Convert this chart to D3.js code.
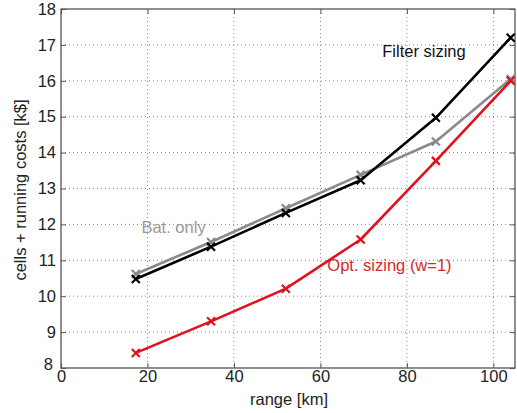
<!DOCTYPE html>
<html><head><meta charset="utf-8">
<script src="https://cdn.jsdelivr.net/npm/d3@7"></script>
<style>body{margin:0;background:#fff}svg{display:block}text{font-family:"Liberation Sans",Arial,sans-serif}</style>
</head><body>
<svg id="c" width="517" height="413"></svg>
<script>
const rangeKm = [17.3, 34.7, 52, 69.3, 86.7, 104];
const filterSizing = [10.48, 11.38, 12.32, 13.23, 14.97, 17.2];
const batOnly = [10.62, 11.51, 12.45, 13.38, 14.31, 16.05];
const optSizing = [8.42, 9.3, 10.21, 11.58, 13.77, 16.0];
const xTicks = [0, 20, 40, 60, 80, 100];
const yTicks = [8, 9, 10, 11, 12, 13, 14, 15, 16, 17, 18];
const xTitle = "range [km]";
const yTitle = "cells + running costs [k$]";

const svg = d3.select("#c");
const L = 61, R = 515, T = 9, B = 368;
const x = d3.scaleLinear().domain([0, 105]).range([L, R]);
const y = d3.scaleLinear().domain([8, 18]).range([B, T]);
const axisCol = "#555", gridCol = "#888";

// grid
const g = svg.append("g");
g.selectAll(".gx").data(xTicks.filter(d => d > 0)).enter().append("line")
  .attr("x1", d => x(d)).attr("x2", d => x(d)).attr("y1", T).attr("y2", B)
  .attr("stroke", gridCol).attr("stroke-width", 1).attr("stroke-dasharray", "1,3");
g.selectAll(".gy").data(yTicks.filter(d => d > 8 && d < 18)).enter().append("line")
  .attr("x1", L).attr("x2", R).attr("y1", d => y(d)).attr("y2", d => y(d))
  .attr("stroke", gridCol).attr("stroke-width", 1).attr("stroke-dasharray", "1,3");

// axes
const fs = "16.5px";
const xAxis = svg.append("g").attr("transform", `translate(0,${B})`)
  .call(d3.axisBottom(x).tickValues(xTicks).tickSize(-5).tickPadding(2).tickFormat(d3.format("d")));
const xAxisTop = svg.append("g").attr("transform", `translate(0,${T})`)
  .call(d3.axisTop(x).tickValues(xTicks).tickSize(-5).tickFormat(""));
const yAxis = svg.append("g").attr("transform", `translate(${L},0)`)
  .call(d3.axisLeft(y).tickValues(yTicks).tickSize(-5).tickPadding(5).tickFormat(d3.format("d")));
const yAxisR = svg.append("g").attr("transform", `translate(${R},0)`)
  .call(d3.axisRight(y).tickValues(yTicks).tickSize(-5).tickFormat(""));
[xAxis, xAxisTop, yAxis, yAxisR].forEach(a => {
  a.select(".domain").remove();
  a.selectAll("line").attr("stroke", axisCol);
  a.selectAll("text").attr("fill", "#222").style("font-size", fs).style("font-family", '"Liberation Sans",Arial,sans-serif');
});
yAxis.selectAll("text").filter(d => d === 8).attr("dy", "0.1em").attr("dx", "-3");
svg.append("rect").attr("x", L).attr("y", T).attr("width", R - L).attr("height", B - T)
  .attr("fill", "none").attr("stroke", axisCol).attr("stroke-width", 1.3);

// titles
svg.append("text").attr("x", (L + R) / 2 + 1).attr("y", 405).attr("text-anchor", "middle")
  .style("font-size", fs).attr("fill", "#222").text(xTitle);
svg.append("text").attr("transform", `translate(26,190) rotate(-90)`).attr("text-anchor", "middle")
  .style("font-size", fs).attr("fill", "#222").text(yTitle);

// series
const series = [
  {vals: batOnly, color: "#8a8a8a"},
  {vals: filterSizing, color: "#000"},
  {vals: optSizing, color: "#e0121c"}
];
const line = d3.line().x(d => x(d[0])).y(d => y(d[1]));
series.forEach(s => {
  const pts = rangeKm.map((r, i) => [r, s.vals[i]]);
  svg.append("path").datum(pts).attr("d", line).attr("fill", "none")
    .attr("stroke", s.color).attr("stroke-width", 2.6).attr("stroke-linejoin", "round");
  const m = 4;
  svg.append("g").selectAll("path").data(pts).enter().append("path")
    .attr("d", d => `M${x(d[0]) - m},${y(d[1]) - m}L${x(d[0]) + m},${y(d[1]) + m}M${x(d[0]) - m},${y(d[1]) + m}L${x(d[0]) + m},${y(d[1]) - m}`)
    .attr("stroke", s.color).attr("stroke-width", 2.2);
});

// annotations
svg.append("text").attr("x", x(74.3)).attr("y", y(16.67)).style("font-size", "16.5px").attr("fill", "#111").text("Filter sizing");
svg.append("text").attr("x", x(18.6)).attr("y", y(11.77)).style("font-size", "16.5px").attr("fill", "#999").text("Bat. only");
svg.append("text").attr("x", x(61.6)).attr("y", y(10.7)).style("font-size", "16.5px").attr("fill", "#d42a2a").text("Opt. sizing (w=1)");
</script>
</body></html>
